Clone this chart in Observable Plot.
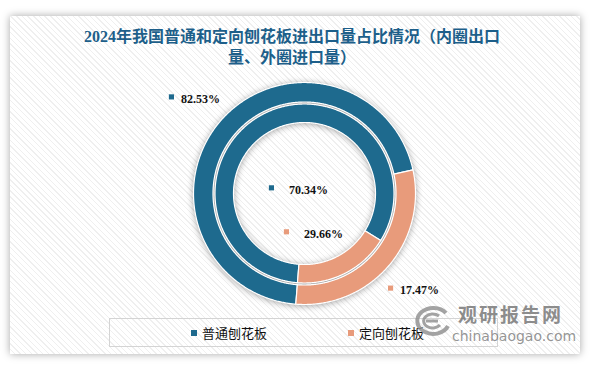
<!DOCTYPE html>
<html>
<head>
<meta charset="utf-8">
<script src="https://cdn.jsdelivr.net/npm/d3@7"></script>
<script src="https://cdn.jsdelivr.net/npm/@observablehq/plot@0.6"></script>
<style>
  html, body { margin: 0; padding: 0; background: #fff; }
  body { width: 594px; height: 366px; position: relative; overflow: hidden; }
  #card {
    position: absolute; left: 10px; top: 16px; width: 570px; height: 338px;
    background: repeating-linear-gradient(45deg, #ffffff 0px, #ffffff 3px, #efefef 3px, #efefef 4px);
    box-shadow: 0 0 8px rgba(0,0,0,0.35);
  }
  #title {
    position: absolute; left: 60px; width: 464px; top: 26px;
    text-align: center; font: bold 16px/21px "Liberation Serif", "Noto Sans CJK SC", serif;
    color: #1d5f8a;
  }
  #chart { position: absolute; left: 0; top: 0; }
  #chart g[aria-label="line"] { filter: drop-shadow(0 1px 3px rgba(0,0,0,0.35)); }
  #legend {
    position: absolute; left: 109px; top: 318px; width: 387px; height: 27px;
    border: 1px solid #d4d4d4; box-sizing: content-box;
  }
  .li { position: absolute; top: 0; height: 27px; display: flex; align-items: center;
        font: 13px "Noto Sans CJK SC", sans-serif; color: #111; }
  .li span.sw { display: inline-block; width: 6px; height: 6px; margin-right: 5px; }
  #wm { position: absolute; left: 410px; top: 302px; width: 160px; height: 44px; }
  #wm .cn { position: absolute; left: 48px; top: 2px; font: bold 19px/19px "Noto Sans CJK SC", sans-serif; letter-spacing: 2px; color: rgba(120,120,120,0.85); }
  #wm .en { position: absolute; left: 42px; top: 27px; font: 14px/14px "DejaVu Sans", sans-serif; color: rgba(130,130,130,0.85); }
</style>
</head>
<body>
<div id="card"></div>
<div id="title">2024年我国普通和定向刨花板进出口量占比情况（内圈出口<br>量、外圈进口量）</div>
<div id="chart"></div>
<div id="legend"></div>
<div id="wm">
  <svg width="40" height="34" style="position:absolute;left:2px;top:2px" viewBox="0 0 40 34">
    <path d="M34 9 A16 13 0 1 0 36 22" fill="none" stroke="rgba(140,140,140,0.8)" stroke-width="4"/>
    <path d="M27 12 A9 7 0 1 0 28 21" fill="none" stroke="rgba(140,140,140,0.8)" stroke-width="3"/>
    <path d="M14 17 L26 17" fill="none" stroke="rgba(140,140,140,0.8)" stroke-width="3"/>
  </svg>
  <div class="cn">观研报告网</div>
  <div class="en">chinabaogao.com</div>
</div>
<script>
// ---- data ----
const categories = ["普通刨花板", "定向刨花板"];
const innerRingShare = [82.53, 17.47];   // inner ring (as drawn)
const outerRingShare = [70.34, 29.66];   // outer ring (as drawn)
const outerLabelValues = [82.53, 17.47]; // labels placed outside the outer ring
const innerLabelValues = [70.34, 29.66]; // labels placed in the hole
const colors = ["#1e6a8e", "#e89b7b"];

// ---- geometry ----
const cx = 304, cy = 193, R = 111;
const START = 184.5; // degrees clockwise from 12 o'clock
const rad = a => a * Math.PI / 180;

function slices(values, r0, r1, ring) {
  const total = d3.sum(values);
  let a = START;
  return values.map((v, i) => {
    const a0 = a, a1 = a + v / total * 360; a = a1;
    return {ring, i, cat: categories[i], a0, a1, r0, r1, mid: (a0 + a1) / 2};
  });
}
const outer = slices(outerRingShare, 91.5 / R, 1, "outer");
const inner = slices(innerRingShare, 71 / R, 89.5 / R, "inner");

const pts = [];
for (const s of [...outer, ...inner]) {
  const key = s.ring + s.i;
  const n = Math.max(2, Math.ceil((s.a1 - s.a0) / 0.5));
  const ring = [];
  for (let k = 0; k <= n; k++) {
    const a = rad(s.a0 + (s.a1 - s.a0) * k / n);
    ring.push({key, cat: s.cat, x: s.r1 * Math.sin(a), y: s.r1 * Math.cos(a)});
  }
  for (let k = n; k >= 0; k--) {
    const a = rad(s.a0 + (s.a1 - s.a0) * k / n);
    ring.push({key, cat: s.cat, x: s.r0 * Math.sin(a), y: s.r0 * Math.cos(a)});
  }
  ring.push({...ring[0]});
  pts.push(...ring);
}

const fmt = v => v.toFixed(2) + "%";
const LR = 1.31;
const outerLabels = outer.map((s, i) => ({
  cat: s.cat, text: fmt(outerLabelValues[i]),
  x: LR * Math.sin(rad(s.mid)), y: LR * Math.cos(rad(s.mid))
}));
const innerAnchors = [[-0.14, 0.033], [-0.005, -0.363]];
const innerLabels = categories.map((c, i) => ({
  cat: c, text: fmt(innerLabelValues[i]), x: innerAnchors[i][0], y: innerAnchors[i][1]
}));

const labelFont = {fontFamily: "Liberation Serif, DejaVu Serif, serif", fontWeight: "bold", fontSize: 12, fill: "#111"};

const chart = Plot.plot({
  width: 594, height: 366,
  style: {background: "transparent", overflow: "visible"},
  x: {domain: [-1, 1], range: [cx - R, cx + R], axis: null},
  y: {domain: [-1, 1], range: [cy + R, cy - R], axis: null},
  color: {domain: categories, range: colors},
  marks: [
    Plot.line(pts, {x: "x", y: "y", z: "key", fill: "cat", stroke: "white", strokeWidth: 1.2, curve: "linear"}),
    Plot.dot(outerLabels, {x: "x", y: "y", fill: "cat", symbol: "square", r: 2.9, dx: -23.5, dy: -1}),
    Plot.text(outerLabels, {x: "x", y: "y", text: "text", textAnchor: "start", dx: -14, dy: 1, ...labelFont}),
    Plot.dot(innerLabels, {x: "x", y: "y", fill: "cat", symbol: "square", r: 2.9, dx: -17.5, dy: -2}),
    Plot.text(innerLabels, {x: "x", y: "y", text: "text", textAnchor: "start", dx: 0, dy: 0, ...labelFont})
  ]
});
document.getElementById("chart").appendChild(chart);

// legend
const legend = document.getElementById("legend");
const legendX = [81, 238];
categories.forEach((c, i) => {
  const d = document.createElement("div");
  d.className = "li";
  d.style.left = legendX[i] + "px";
  d.innerHTML = `<span class="sw" style="background:${colors[i]}"></span>${c}`;
  legend.appendChild(d);
});
</script>
</body>
</html>
